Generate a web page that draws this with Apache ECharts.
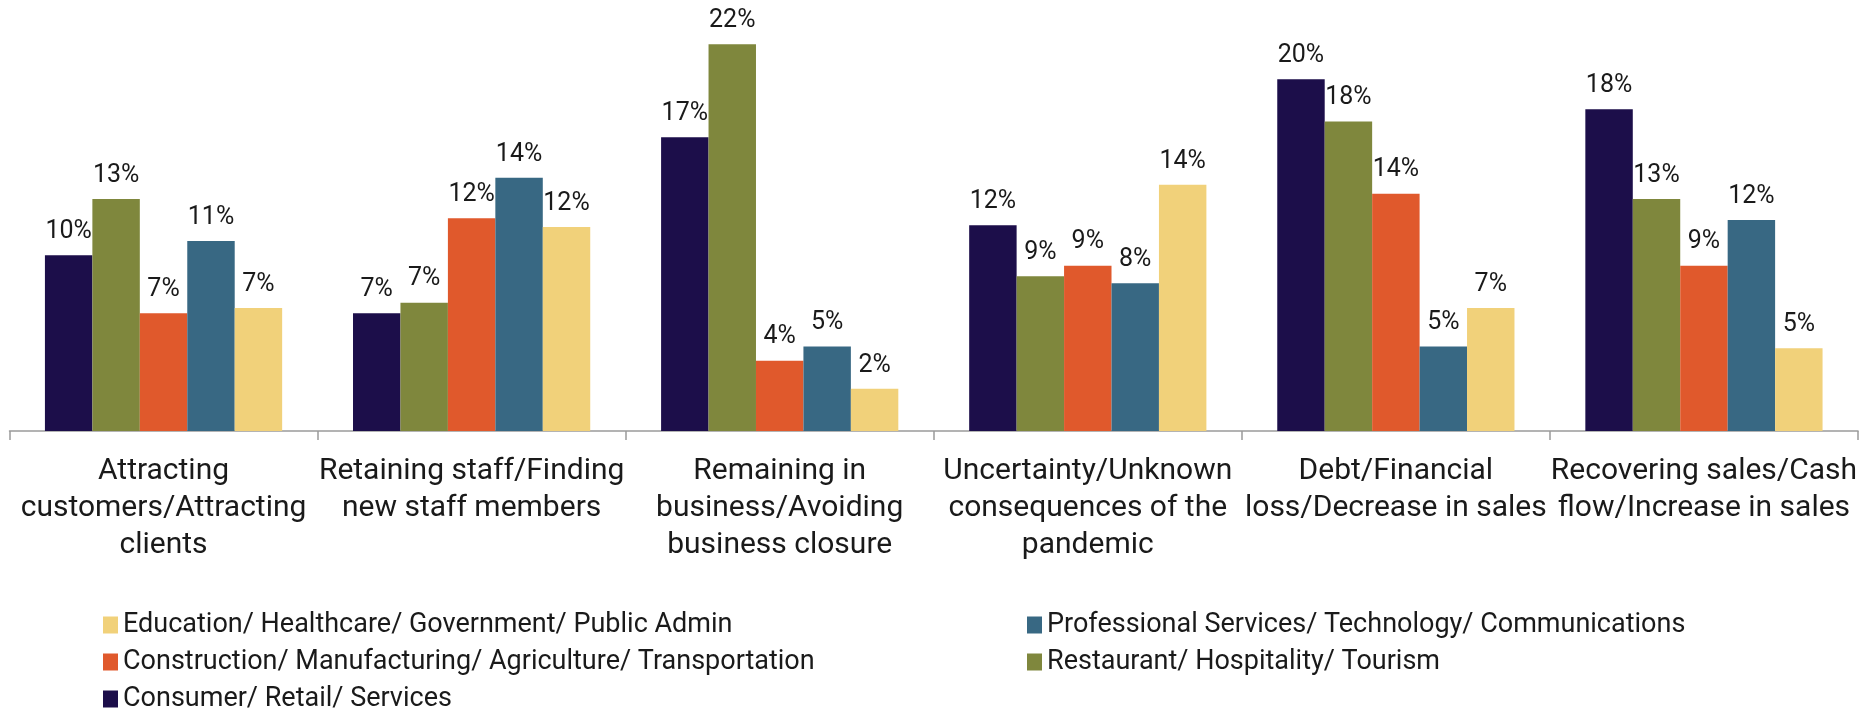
<!DOCTYPE html>
<html>
<head>
<meta charset="utf-8">
<script src="https://cdn.jsdelivr.net/npm/echarts@6/dist/echarts.min.js"></script>
<style>
html,body{margin:0;padding:0;background:#fff;}
#chart{width:1860px;height:708px;}
</style>
</head>
<body>
<div id="chart"></div>
<script>
const categories = [
  "Attracting\ncustomers/Attracting\nclients",
  "Retaining staff/Finding\nnew staff members",
  "Remaining in\nbusiness/Avoiding\nbusiness closure",
  "Uncertainty/Unknown\nconsequences of the\npandemic",
  "Debt/Financial\nloss/Decrease in sales",
  "Recovering sales/Cash\nflow/Increase in sales"
];
const consumer     = [10.0, 6.7, 16.7, 11.7, 20.0, 18.3];
const restaurant   = [13.2, 7.3, 22.0, 8.8, 17.6, 13.2];
const construction = [6.7, 12.1, 4.0, 9.4, 13.5, 9.4];
const professional = [10.8, 14.4, 4.8, 8.4, 4.8, 12.0];
const education    = [7.0, 11.6, 2.4, 14.0, 7.0, 4.7];

const names = {
  consumer: "Consumer/ Retail/ Services",
  restaurant: "Restaurant/ Hospitality/ Tourism",
  construction: "Construction/ Manufacturing/ Agriculture/ Transportation",
  professional: "Professional Services/ Technology/ Communications",
  education: "Education/ Healthcare/ Government/ Public Admin"
};

const FONT = "Roboto, 'DejaVu Sans', sans-serif";
const chart = echarts.init(document.getElementById('chart'));

function bar(name, data, color) {
  return {
    name: name,
    type: 'bar',
    data: data,
    barGap: '0%',
    barCategoryGap: '23%',
    itemStyle: { color: color },
    label: {
      show: true,
      position: 'top',
      distance: 11,
      fontFamily: FONT,
      fontSize: 25,
      color: '#1a1a1a',
      formatter: p => Math.round(p.value) + '%'
    }
  };
}

function legendItem(name, left, centerY) {
  return {
    left: left, top: centerY - 13.5,
    padding: 0,
    itemWidth: 15, itemHeight: 17, itemGap: 0,
    icon: 'rect',
    textStyle: { fontFamily: FONT, fontSize: 27, color: '#1a1a1a', lineHeight: 27 },
    data: [name]
  };
}

chart.setOption({
  animation: false,
  backgroundColor: '#fff',
  grid: { left: 9.5, right: 1, top: 9, bottom: 277, containLabel: false },
  xAxis: {
    type: 'category',
    data: categories,
    axisLine: { lineStyle: { color: '#9a9a9a', width: 1.5 } },
    axisTick: { show: true, length: 9, lineStyle: { color: '#9a9a9a', width: 1.5 } },
    axisLabel: {
      interval: 0,
      margin: 22,
      fontFamily: FONT,
      fontSize: 30,
      lineHeight: 37,
      color: '#1a1a1a',
      align: 'center'
    }
  },
  yAxis: {
    type: 'value', min: 0, max: 24, show: false,
    splitLine: { show: false }
  },
  legend: [
    legendItem(names.education, 103, 625),
    legendItem(names.construction, 103, 662),
    legendItem(names.consumer, 103, 699),
    legendItem(names.professional, 1027, 625),
    legendItem(names.restaurant, 1027, 662)
  ],
  series: [
    bar(names.consumer, consumer, '#1c0e4a'),
    bar(names.restaurant, restaurant, '#7f873d'),
    bar(names.construction, construction, '#e0592c'),
    bar(names.professional, professional, '#386883'),
    bar(names.education, education, '#f1d17a')
  ]
});
</script>
</body>
</html>
